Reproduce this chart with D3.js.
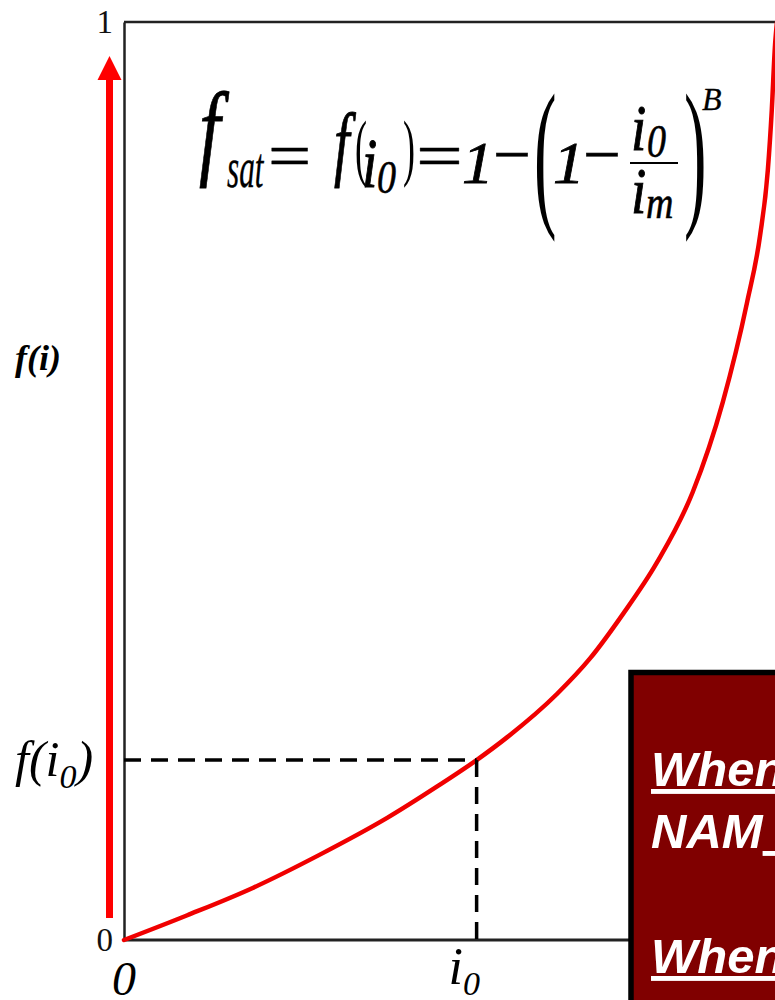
<!DOCTYPE html>
<html>
<head>
<meta charset="utf-8">
<script src="https://cdn.jsdelivr.net/npm/d3@7"></script>
<style>
  body { margin: 0; background: #fff; }
  svg { display: block; }
</style>
</head>
<body>
<svg id="chart" width="775" height="1000"></svg>
<script>
// Saturation function f(i) plotted against the normalised current i / i_m
const currentRatio = [0, 0.097, 0.198, 0.300, 0.403, 0.479, 0.540, 0.587, 0.663, 0.714,
                      0.764, 0.816, 0.871, 0.917, 0.954, 0.974, 0.986, 0.992, 0.997, 1.000];
const saturation   = [0, 0.027, 0.057, 0.093, 0.133, 0.167, 0.196, 0.221, 0.268, 0.307,
                      0.355, 0.411, 0.488, 0.586, 0.694, 0.767, 0.839, 0.904, 0.975, 1.000];

// Operating point i0 and its value f(i0)
const operatingRatio = 0.540;
const operatingSat = 0.196;

// Axis ticks
const yTickValues = [0, 1];
const yTickLabels = ["0", "1"];

const W = 775, H = 1000;
const svg = d3.select("#chart");

const x = d3.scaleLinear().domain([0, 1]).range([124, 777]);
const y = d3.scaleLinear().domain([0, 1]).range([940, 22]);

const serif = "'Liberation Serif', 'Times New Roman', serif";
const sans = "'Liberation Sans', Arial, sans-serif";

// Frame: top and bottom borders
svg.append("line")
  .attr("x1", x(0)).attr("x2", W + 5)
  .attr("y1", y(1)).attr("y2", y(1))
  .attr("stroke", "#222").attr("stroke-width", 2.5);
svg.append("line")
  .attr("x1", x(0)).attr("x2", W + 5)
  .attr("y1", y(0)).attr("y2", y(0))
  .attr("stroke", "#222").attr("stroke-width", 3);

// Left axis with the 0 / 1 ticks
const yAxis = d3.axisLeft(y)
  .tickValues(yTickValues)
  .tickFormat((d, i) => yTickLabels[i])
  .tickSize(0)
  .tickPadding(11);
const gy = svg.append("g")
  .attr("transform", `translate(${x(0)},0)`)
  .call(yAxis);
gy.select(".domain").attr("stroke", "#222").attr("stroke-width", 2.5);
gy.selectAll(".tick text")
  .attr("font-family", serif)
  .attr("font-size", 33)
  .attr("fill", "#111");

// Red arrow along the f(i) axis
const arrowX = 109.5;
svg.append("line")
  .attr("x1", arrowX).attr("x2", arrowX)
  .attr("y1", y(0) - 22).attr("y2", 78)
  .attr("stroke", "#ff0000").attr("stroke-width", 7);
svg.append("path")
  .attr("d", `M${arrowX},56 L${arrowX + 12},80 L${arrowX - 12},80 Z`)
  .attr("fill", "#ff0000");

// Saturation curve
const points = currentRatio.map((r, i) => [r, saturation[i]]);
const line = d3.line()
  .x(d => x(d[0]))
  .y(d => y(d[1]))
  .curve(d3.curveMonotoneX);
svg.append("path")
  .datum(points)
  .attr("d", line)
  .attr("fill", "none")
  .attr("stroke", "#f00000")
  .attr("stroke-width", 4.5)
  .attr("stroke-linecap", "round");

// Dashed guides to the operating point
svg.append("line")
  .attr("x1", x(0)).attr("x2", x(operatingRatio))
  .attr("y1", y(operatingSat)).attr("y2", y(operatingSat))
  .attr("stroke", "#000").attr("stroke-width", 3.5)
  .attr("stroke-dasharray", "17,10");
svg.append("line")
  .attr("x1", x(operatingRatio)).attr("x2", x(operatingRatio))
  .attr("y1", y(operatingSat)).attr("y2", y(0))
  .attr("stroke", "#000").attr("stroke-width", 3.5)
  .attr("stroke-dasharray", "17,10");

// Axis annotations
svg.append("text")
  .attr("x", 15).attr("y", 370)
  .attr("font-family", serif).attr("font-size", 36)
  .attr("font-style", "italic").attr("font-weight", "bold")
  .text("f(i)");

const fi0 = svg.append("text")
  .attr("x", 15).attr("y", y(operatingSat) + 16)
  .attr("font-family", serif).attr("font-size", 50)
  .attr("font-style", "italic");
fi0.append("tspan").text("f(i");
fi0.append("tspan").attr("font-size", 34).attr("dy", 12).text("0");
fi0.append("tspan").attr("dy", -12).text(")");

svg.append("text")
  .attr("x", x(0)).attr("y", 995)
  .attr("text-anchor", "middle")
  .attr("font-family", serif).attr("font-size", 48)
  .attr("font-style", "italic")
  .text("0");

const i0Label = svg.append("text")
  .attr("x", x(operatingRatio) - 28).attr("y", 984)
  .attr("font-family", serif).attr("font-size", 52)
  .attr("font-style", "italic");
i0Label.append("tspan").text("i");
i0Label.append("tspan").attr("font-size", 34).attr("dy", 11).text("0");

// Formula: f_sat = f(i0) = 1 - (1 - i0/im)^B
const formula = svg.append("g")
  .attr("font-family", serif)
  .attr("fill", "#000")
  .attr("stroke", "#000");
function piece(txt, px, base, size, sx, sy, italic, weight) {
  formula.append("text")
    .attr("transform", `translate(${px},${base}) scale(${sx},${sy})`)
    .attr("font-size", size)
    .attr("font-style", italic ? "italic" : "normal")
    .attr("stroke-width", weight == null ? 0.8 : weight)
    .text(txt);
}
piece("f", 199, 165, 96, 0.8, 1.1, true, 0.7);
piece("sat", 227, 187, 46, 0.68, 1.25, true, 0.3);
piece("=", 268, 177, 64, 1.2, 1, false, 0.4);
piece("f", 334, 170, 70, 0.8, 1.18, true, 0.7);
piece("(", 355, 172, 60, 0.6, 1.25, false, 0);
piece("i", 362, 187, 55, 1, 1.25, true);
piece("0", 377, 193, 38, 1, 1.2, true, 0.5);
piece(")", 403, 172, 60, 0.6, 1.25, false, 0);
piece("=", 416, 177, 64, 1.3, 1, false, 0.4);
piece("1", 462, 183, 60, 1.05, 1, true, 0.8);
piece("\u2212", 493, 176, 64, 1.05, 1, false, 0.5);
piece("(", 534, 207, 150, 0.45, 1.09, false, 0);
piece("1", 553, 183, 60, 1.05, 1, true, 0.8);
piece("\u2212", 583, 176, 64, 1.05, 1, false, 0.5);
piece("i", 631, 150, 55, 1, 1.2, true);
piece("0", 647, 157, 38, 1, 1.2, true, 0.5);
piece("i", 631, 213, 55, 1, 1.2, true);
piece("m", 646, 218, 38, 1, 1.2, true, 0.5);
piece(")", 684, 207, 150, 0.45, 1.09, false, 0);
piece("B", 702, 110, 32, 1, 1, true, 0.3);
formula.append("line")
  .attr("x1", 630).attr("x2", 678)
  .attr("y1", 163).attr("y2", 163)
  .attr("stroke-width", 2);

// Callout box
const box = svg.append("g");
box.append("rect")
  .attr("x", 631).attr("y", 672.5)
  .attr("width", 220).attr("height", 400)
  .attr("fill", "#800000")
  .attr("stroke", "#000").attr("stroke-width", 5.5);

const boxLines = [
  { base: 786, parts: [{ t: "When", u: true }, { t: " f", u: true }] },
  { base: 848, parts: [{ t: "NAM", u: false }, { t: " is", u: true }] },
  { base: 973, parts: [{ t: "When", u: true }, { t: " f", u: true }] },
  { base: 1035, parts: [{ t: "NAM", u: false }, { t: " is", u: true }] }
];
boxLines.forEach(l => {
  const t = box.append("text")
    .attr("x", 651).attr("y", l.base)
    .attr("font-family", sans).attr("font-size", 49)
    .attr("font-weight", "bold").attr("font-style", "italic")
    .attr("fill", "#fff");
  l.parts.forEach(p => {
    t.append("tspan")
      .attr("text-decoration", p.u ? "underline" : null)
      .text(p.t);
  });
});
</script>
</body>
</html>
